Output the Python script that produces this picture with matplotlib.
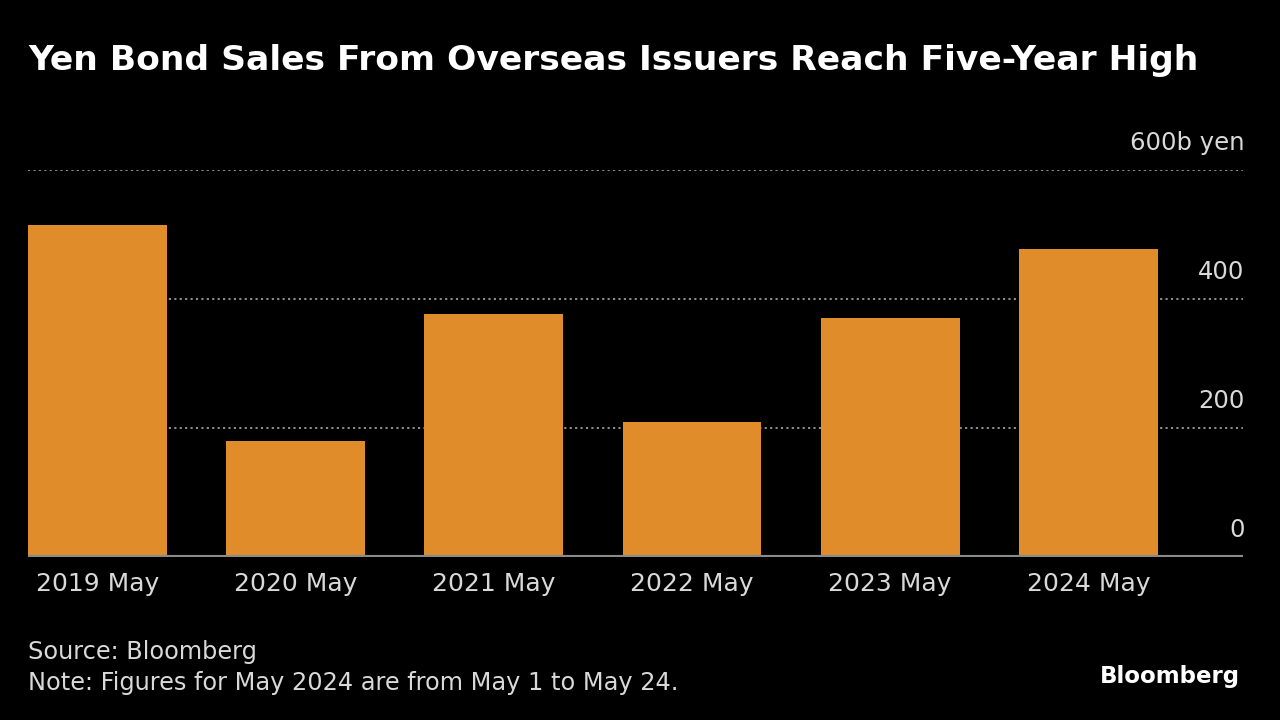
import numpy as np
import matplotlib.pyplot as plt
from matplotlib.transforms import offset_copy

# Yen bond sales from overseas issuers (billion yen), May of each year
labels = ['2019 May', '2020 May', '2021 May', '2022 May', '2023 May', '2024 May']
sales = [515, 180, 377, 209, 371, 478]
yticks = [0, 200, 400, 600]

bar_color = '#E08C2A'
text_color = '#D9D9D9'

fig = plt.figure(figsize=(12.8, 7.2), dpi=100, facecolor='black')
ax = fig.add_axes([0.022, 0.2264, 0.949, 0.5375], facecolor='black')

x = np.arange(len(labels))
ax.bar(x, sales, width=0.70, color=bar_color, zorder=2)

ax.set_xlim(-0.35, 5.78)
ax.set_ylim(0, 600)

# dotted gridlines
for v in yticks[1:]:
    ax.axhline(v, color='#9a9a9a', linestyle=(0, (1.2, 1.8)), linewidth=1.3, zorder=1)
ax.axhline(0, color='#8a8a8a', linewidth=3, zorder=3)

# y labels sit above their gridlines, on the right
trans = offset_copy(ax.get_yaxis_transform(), fig=fig, x=0, y=11, units='points')
for v in yticks:
    lab = '600b yen' if v == 600 else str(v)
    ax.text(1.0015, v, lab, transform=trans, ha='right', va='bottom',
            color=text_color, fontsize=17.5)

ax.set_xticks(x)
ax.set_xticklabels(labels, color=text_color, fontsize=18)
ax.tick_params(axis='x', length=0, pad=11)
ax.set_yticks([])
for s in ax.spines.values():
    s.set_visible(False)

fig.text(0.022, 0.916, 'Yen Bond Sales From Overseas Issuers Reach Five-Year High',
         color='white', fontsize=24.8, fontweight='bold', va='center', ha='left')
fig.text(0.022, 0.094, 'Source: Bloomberg', color=text_color, fontsize=17.3, va='center')
fig.text(0.022, 0.051, 'Note: Figures for May 2024 are from May 1 to May 24.',
         color=text_color, fontsize=17.3, va='center')
fig.text(0.969, 0.061, 'Bloomberg', color='white', fontsize=16.5, fontweight='bold',
         ha='right', va='center')

fig.savefig('out.png', dpi=100, facecolor='black')
